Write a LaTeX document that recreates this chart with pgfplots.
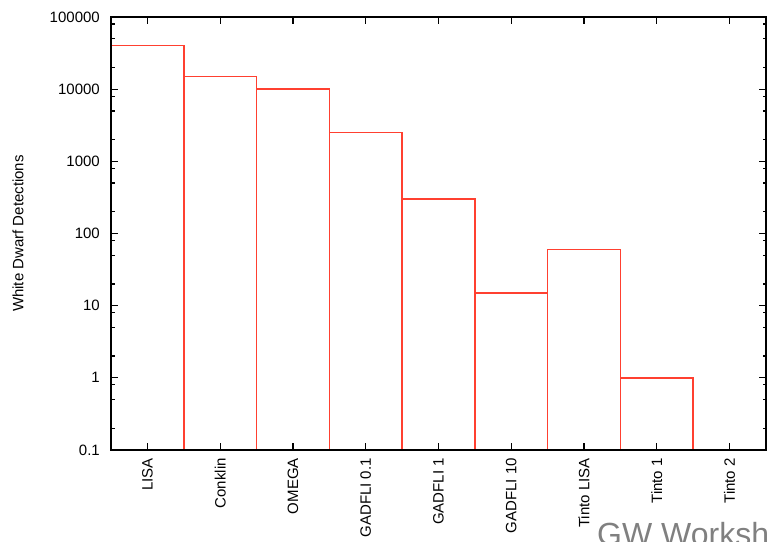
\documentclass[border=0pt]{standalone}
\usepackage{fontspec}
\setmainfont{Liberation Sans}
\usepackage{pgfplots}
\pgfplotsset{compat=1.18}
\definecolor{barred}{RGB}{255,64,48}
\begin{document}
\begin{tikzpicture}[x=1pt,y=1pt]
\path[use as bounding box] (0,0) rectangle (767,541);
\clip (0,0) rectangle (767,541);
\begin{axis}[
 at={(111pt,91pt)}, anchor=south west,
 scale only axis, width=655pt, height=433pt,
 axis on top,
 ymode=log, ymin=0.1, ymax=100000, log origin=infty,
 xmin=-0.5, xmax=8.5,
 xtick={0,...,8},
 xticklabels={LISA,Conklin,OMEGA,GADFLI 0.1,GADFLI 1,GADFLI 10,Tinto LISA,Tinto 1,Tinto 2},
 x tick label style={yshift=-8pt, rotate=90, anchor=east, inner sep=0pt},
 ytick={0.1,1,10,100,1000,10000,100000},
 yticklabels={0.1,1,10,100,1000,10000,100000},
 y tick label style={anchor=east, inner sep=0pt, xshift=-11pt},
 minor ytick={0.2,0.5,0.8,2,5,8,20,50,80,200,500,800,2000,5000,8000,20000,50000,80000},
 tick align=inside, major tick length=7pt, minor tick length=3.5pt,
 every tick/.style={black, line width=1.3pt},
 axis line style={line width=1.6pt},
 ylabel={White Dwarf Detections},
 ylabel style={at={(axis description cs:-0.142,0.5)}, anchor=center},
 /pgf/number format/assume math mode=true,
 font=\fontsize{15}{18}\selectfont,
]
\addplot[ybar, bar width=1, draw=barred, fill=none, line width=1.5pt]
 coordinates {(0,40000) (1,15000) (2,10000) (3,2500) (4,300) (5,15) (6,60) (7,1)};
\end{axis}
\node[anchor=base west, gray, inner sep=0pt, font=\fontsize{32}{38}\selectfont] at (597,-4) {GW Workshop};
\end{tikzpicture}
\end{document}
